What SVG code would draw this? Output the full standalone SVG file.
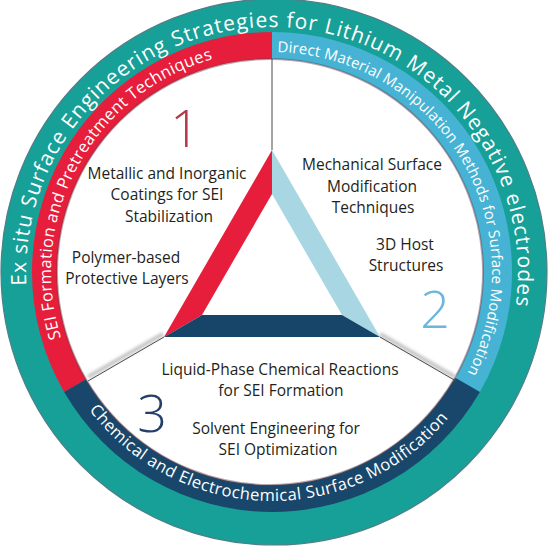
<svg xmlns="http://www.w3.org/2000/svg" width="548" height="551" viewBox="0 0 548 551">
<defs>
<style>
.ring{font-family:"Open Sans","Liberation Sans",sans-serif;fill:#ffffff;}
.lbl{font-family:"Open Sans","Liberation Sans",sans-serif;font-size:15.5px;fill:#231f20;text-anchor:middle;}
.num{font-family:"Open Sans","Liberation Sans",sans-serif;font-weight:300;font-size:52px;text-anchor:middle;}
.sep{stroke:#4a4a4a;stroke-width:1;fill:none;}
.shadow{stroke:#c4c4c4;stroke-width:4;fill:none;filter:url(#blur);}
</style>
<filter id="blur" x="-50%" y="-50%" width="200%" height="200%"><feGaussianBlur stdDeviation="1.5"/></filter>
<path id="pOuter" d="M272,519 A246,246 0 0 1 272,27 A246,246 0 0 1 272,519"/>
<path id="pRed" d="M272,493 A221,221 0 0 1 272,51 A221,221 0 0 1 272,493"/>
<path id="pBlue" d="M272,492 A220,220 0 0 1 272,52 A220,220 0 0 1 272,492"/>
<path id="pNavy" d="M272,43 A229,229 0 0 0 272,501 A229,229 0 0 0 272,43"/>
</defs>

<g id="outer-ring">
<circle cx="274" cy="272" r="273" fill="#17a097" stroke="#4f7f88" stroke-width="1.2"/>
<text class="ring" font-size="21"><textPath href="#pOuter" startOffset="782.5" text-anchor="middle" textLength="818" lengthAdjust="spacing">Ex situ Surface Engineering Strategies for Lithium Metal Negative electrodes</textPath></text>
</g>

<g id="band-red">
<path d="M272,272 L64.15,392 A240,240 0 0 1 272,32 Z" fill="#e61e3c"/>
</g>
<g id="band-blue">
<path d="M272,272 L272,32 A240,240 0 0 1 479.85,392 Z" fill="#46b3d5"/>
</g>
<g id="band-navy">
<path d="M272,272 L479.85,392 A240,240 0 0 1 64.15,392 Z" fill="#18476b"/>
</g>

<g id="inner">
<circle cx="270" cy="272" r="213" fill="#ffffff" stroke="#6a3c4a" stroke-opacity="0.45" stroke-width="2"/>
</g>

<g id="band-labels">
<text class="ring" font-size="16.5"><textPath href="#pRed" startOffset="457" text-anchor="middle" textLength="354" lengthAdjust="spacing">SEI Formation and Pretreatment Techniques</textPath></text>
<text class="ring" font-size="15"><textPath href="#pBlue" startOffset="918.6" text-anchor="middle" textLength="445" lengthAdjust="spacing">Direct Material Manipulation Methods for Surface Modification</textPath></text>
<text class="ring" font-size="16.5"><textPath href="#pNavy" startOffset="713.8" text-anchor="middle" textLength="413" lengthAdjust="spacing">Chemical and Electrochemical Surface Modification</textPath></text>
</g>

<g id="connectors">
<line class="shadow" x1="275" y1="150" x2="275" y2="60"/>
<line class="shadow" x1="163" y1="334" x2="88" y2="377"/>
<line class="shadow" x1="380" y1="334" x2="455" y2="377"/>
<line class="sep" x1="272" y1="150" x2="272" y2="59"/>
<line class="sep" x1="164" y1="337" x2="88" y2="381"/>
<line class="sep" x1="380" y1="337" x2="456" y2="381"/>
</g>

<g id="triangle">
<polygon points="272,150 272,194 202,315 164,337" fill="#e61e3c"/>
<polygon points="272,150 380,337 342,315 272,194" fill="#a9d6e3"/>
<polygon points="164,337 380,337 342,315 202,315" fill="#17456a"/>
</g>

<g id="node-1">
<text class="num" x="185" y="147" fill="#b23a48">1</text>
<text class="lbl" x="167" y="179">Metallic and Inorganic</text>
<text class="lbl" x="167" y="200">Coatings for SEI</text>
<text class="lbl" x="169" y="222">Stabilization</text>
<text class="lbl" x="126" y="263">Polymer-based</text>
<text class="lbl" x="127" y="284">Protective Layers</text>
</g>

<g id="node-2">
<text class="num" x="435" y="328" fill="#6cb5dd">2</text>
<text class="lbl" x="372" y="170">Mechanical Surface</text>
<text class="lbl" x="372" y="192">Modification</text>
<text class="lbl" x="373" y="213">Techniques</text>
<text class="lbl" x="405" y="250">3D Host</text>
<text class="lbl" x="406" y="271">Structures</text>
</g>

<g id="node-3">
<text class="num" x="152" y="432" fill="#243f69">3</text>
<text class="lbl" x="280" y="375">Liquid-Phase Chemical Reactions</text>
<text class="lbl" x="281" y="396">for SEI Formation</text>
<text class="lbl" x="276" y="434">Solvent Engineering for</text>
<text class="lbl" x="278" y="455">SEI Optimization</text>
</g>
</svg>
